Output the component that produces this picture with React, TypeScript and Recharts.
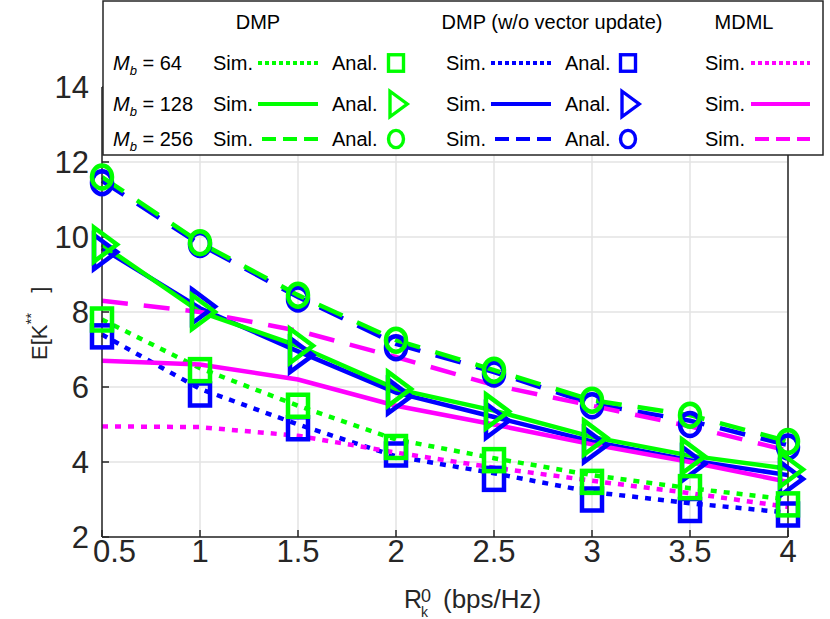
import React from "react";
import { LineChart, Line, XAxis, YAxis, CartesianGrid } from "recharts";

const rates = [0.5, 1, 1.5, 2, 2.5, 3, 3.5, 4];
const yTicks = [2, 4, 6, 8, 10, 12, 14];

// DMP
const dmpSim64 = [7.8, 6.5, 5.5, 4.6, 4.1, 3.65, 3.3, 3.0];
const dmpAnal64 = [7.8, 6.45, 5.5, 4.4, 4.05, 3.47, 3.33, 2.87];
const dmpSim128 = [9.8, 8.0, 7.1, 5.95, 5.37, 4.67, 4.17, 3.82];
const dmpAnal128 = [9.8, 8.0, 7.1, 5.95, 5.35, 4.65, 4.15, 3.8];
const dmpSim256 = [11.6, 9.85, 8.45, 7.25, 6.45, 5.65, 5.25, 4.55];
const dmpAnal256 = [11.6, 9.85, 8.45, 7.25, 6.45, 5.65, 5.25, 4.55];

// DMP (w/o vector update)
const woSim64 = [7.4, 5.95, 5.0, 4.15, 3.7, 3.2, 2.9, 2.65];
const woAnal64 = [7.35, 5.8, 4.9, 4.2, 3.55, 3.0, 2.72, 2.6];
const woSim128 = [9.7, 8.1, 6.95, 5.85, 5.2, 4.55, 4.05, 3.65];
const woAnal128 = [9.6, 8.15, 6.85, 5.75, 5.1, 4.45, 3.95, 3.55];
const woSim256 = [11.5, 9.8, 8.4, 7.15, 6.4, 5.55, 5.1, 4.45];
const woAnal256 = [11.45, 9.8, 8.35, 7.05, 6.35, 5.5, 5.0, 4.4];

// MDML
const mdmlSim64 = [4.95, 4.93, 4.7, 4.25, 3.85, 3.5, 3.17, 2.8];
const mdmlSim128 = [6.7, 6.6, 6.2, 5.5, 5.0, 4.47, 4.0, 3.47];
const mdmlSim256 = [8.3, 8.0, 7.5, 6.8, 6.05, 5.5, 4.95, 4.3];

const data = rates.map((r, i) => ({
  r,
  dmpSim64: dmpSim64[i],
  dmpAnal64: dmpAnal64[i],
  dmpSim128: dmpSim128[i],
  dmpAnal128: dmpAnal128[i],
  dmpSim256: dmpSim256[i],
  dmpAnal256: dmpAnal256[i],
  woSim64: woSim64[i],
  woAnal64: woAnal64[i],
  woSim128: woSim128[i],
  woAnal128: woAnal128[i],
  woSim256: woSim256[i],
  woAnal256: woAnal256[i],
  mdmlSim64: mdmlSim64[i],
  mdmlSim128: mdmlSim128[i],
  mdmlSim256: mdmlSim256[i],
}));

const GREEN = "#00ff00";
const BLUE = "#0000ff";
const MAGENTA = "#ff00ff";
const INK = "#262626";
const FONT = '"Liberation Sans", Arial, Helvetica, sans-serif';

const DOTTED = "6 7";
const DASHED = "26 16";

type Shape = "square" | "triangle" | "circle";

function marker(shape: Shape, color: string, cx: number, cy: number, s: number, key?: any) {
  if (shape === "square") {
    return (
      <rect key={key} x={cx - 10 * s} y={cy - 11 * s} width={20 * s} height={22 * s}
        fill="none" stroke={color} strokeWidth={4.5 * s} />
    );
  }
  if (shape === "triangle") {
    const pts = `${cx - 8 * s},${cy - 17 * s} ${cx + 15 * s},${cy} ${cx - 8 * s},${cy + 17 * s}`;
    return <polygon key={key} points={pts} fill="none" stroke={color} strokeWidth={4.5 * s} />;
  }
  return (
    <ellipse key={key} cx={cx} cy={cy} rx={10 * s} ry={11.5 * s}
      fill="none" stroke={color} strokeWidth={4.5 * s} />
  );
}

const dotOf = (shape: Shape, color: string) => (props: any) => {
  const { cx, cy, index } = props;
  if (cx == null || cy == null) return <g key={index} />;
  return marker(shape, color, cx, cy, 1, index);
};

const Empty = () => <g />;

// first x label sits just right of the y axis, like the MATLAB figure
const XTick = (props: any) => {
  const { x, y, payload, index } = props;
  const first = index === 0;
  return (
    <text
      x={first ? x - 9 : x}
      y={y + 25}
      textAnchor={first ? "start" : "middle"}
      fontFamily={FONT}
      fontSize={31}
      fill={INK}
    >
      {payload.value}
    </text>
  );
};

const YTick = (props: any) => {
  const { x, y, payload } = props;
  return (
    <text x={x} y={y + 11} textAnchor="end" fontFamily={FONT} fontSize={31} fill={INK}>
      {payload.value}
    </text>
  );
};

function LegendBox() {
  const rows = [
    { label: "64", y: 63, dash: "4 3", shape: "square" as Shape },
    { label: "128", y: 104, dash: undefined, shape: "triangle" as Shape },
    { label: "256", y: 139, dash: "14 7", shape: "circle" as Shape },
  ];
  return (
    <g fontFamily={FONT} fontSize={20} fill="#000">
      <rect x={103} y={1} width={720} height={154} fill="#fff" stroke={INK} strokeWidth={1.5} />
      <text x={258} y={29} textAnchor="middle">DMP</text>
      <text x={552} y={29} textAnchor="middle">DMP (w/o vector update)</text>
      <text x={744} y={29} textAnchor="middle">MDML</text>
      {rows.map((row) => {
        const base = row.y + 7;
        const x0 = row.dash === "14 7" ? 262 : 258;
        return (
          <g key={row.label}>
            <text x={113} y={base}>
              <tspan fontStyle="italic">M</tspan>
              <tspan fontStyle="italic" fontSize={13} dy={5}>b</tspan>
              <tspan dy={-5}>{` = ${row.label}`}</tspan>
            </text>
            <text x={213} y={base}>Sim.</text>
            <line x1={x0} x2={318} y1={row.y} y2={row.y} stroke={GREEN} strokeWidth={4} strokeDasharray={row.dash} />
            <text x={332} y={base}>Anal.</text>
            {marker(row.shape, GREEN, 396, row.y, 0.75)}
            <text x={446} y={base}>Sim.</text>
            <line x1={x0 + 233} x2={551} y1={row.y} y2={row.y} stroke={BLUE} strokeWidth={4} strokeDasharray={row.dash} />
            <text x={565} y={base}>Anal.</text>
            {marker(row.shape, BLUE, 628, row.y, 0.75)}
            <text x={705} y={base}>Sim.</text>
            <line x1={x0 + 493} x2={810} y1={row.y} y2={row.y} stroke={MAGENTA} strokeWidth={4} strokeDasharray={row.dash} />
          </g>
        );
      })}
    </g>
  );
}

export default function App() {
  return (
    <div style={{ position: "absolute", left: 0, top: 0, width: 830, height: 619, background: "#fff" }}>
      <LineChart
        width={830}
        height={619}
        data={data}
        margin={{ top: 87, right: 32, bottom: 52, left: 42 }}
      >
        <CartesianGrid yAxisId="l" stroke="#e3e3e3" strokeWidth={1.5} />
        <XAxis
          dataKey="r"
          type="number"
          domain={[0.5, 4]}
          ticks={rates}
          height={30}
          stroke={INK}
          strokeWidth={1.5}
          tickSize={-7}
          tickMargin={7}
          tick={XTick}
          interval={0}
        />
        <YAxis
          yAxisId="l"
          domain={[2, 14]}
          ticks={yTicks}
          width={60}
          stroke={INK}
          strokeWidth={1.5}
          tickSize={-7}
          tickMargin={20}
          tick={YTick}
          interval={0}
        />
        <YAxis
          yAxisId="r"
          orientation="right"
          domain={[2, 14]}
          ticks={yTicks}
          width={10}
          stroke={INK}
          strokeWidth={1.5}
          tickSize={-7}
          tick={Empty}
          interval={0}
        />

        <Line yAxisId="l" dataKey="woSim64" stroke={BLUE} strokeWidth={4.5} strokeDasharray={DOTTED} dot={false} isAnimationActive={false} />
        <Line yAxisId="l" dataKey="woSim128" stroke={BLUE} strokeWidth={4.5} dot={false} isAnimationActive={false} />
        <Line yAxisId="l" dataKey="woSim256" stroke={BLUE} strokeWidth={4.5} strokeDasharray={DASHED} dot={false} isAnimationActive={false} />
        <Line yAxisId="l" dataKey="woAnal64" stroke="none" dot={dotOf("square", BLUE)} activeDot={false} isAnimationActive={false} />
        <Line yAxisId="l" dataKey="woAnal128" stroke="none" dot={dotOf("triangle", BLUE)} activeDot={false} isAnimationActive={false} />
        <Line yAxisId="l" dataKey="woAnal256" stroke="none" dot={dotOf("circle", BLUE)} activeDot={false} isAnimationActive={false} />

        <Line yAxisId="l" dataKey="dmpSim64" stroke={GREEN} strokeWidth={4.5} strokeDasharray={DOTTED} dot={false} isAnimationActive={false} />
        <Line yAxisId="l" dataKey="dmpSim128" stroke={GREEN} strokeWidth={4.5} dot={false} isAnimationActive={false} />
        <Line yAxisId="l" dataKey="dmpSim256" stroke={GREEN} strokeWidth={4.5} strokeDasharray={DASHED} dot={false} isAnimationActive={false} />
        <Line yAxisId="l" dataKey="dmpAnal64" stroke="none" dot={dotOf("square", GREEN)} activeDot={false} isAnimationActive={false} />
        <Line yAxisId="l" dataKey="dmpAnal128" stroke="none" dot={dotOf("triangle", GREEN)} activeDot={false} isAnimationActive={false} />
        <Line yAxisId="l" dataKey="dmpAnal256" stroke="none" dot={dotOf("circle", GREEN)} activeDot={false} isAnimationActive={false} />

        <Line yAxisId="l" dataKey="mdmlSim64" stroke={MAGENTA} strokeWidth={4.5} strokeDasharray={DOTTED} dot={false} isAnimationActive={false} />
        <Line yAxisId="l" dataKey="mdmlSim128" stroke={MAGENTA} strokeWidth={4.5} dot={false} isAnimationActive={false} />
        <Line yAxisId="l" dataKey="mdmlSim256" stroke={MAGENTA} strokeWidth={4.5} strokeDasharray={DASHED} dot={false} isAnimationActive={false} />
      </LineChart>

      <svg
        width={830}
        height={619}
        style={{ position: "absolute", left: 0, top: 0, pointerEvents: "none" }}
      >
        <LegendBox />
        <text y={608} fontFamily={FONT} fontSize={25} fill={INK}>
          <tspan x={404}>R</tspan>
          <tspan x={421} y={617} fontSize={14}>k</tspan>
          <tspan x={421} y={602} fontSize={18}>0</tspan>
          <tspan x={443} y={608} fontSize={26}>(bps/Hz)</tspan>
        </text>
        <text
          x={47}
          y={360}
          transform="rotate(-90 47 360)"
          fontFamily={FONT}
          fontSize={22}
          fill={INK}
        >
          <tspan>E[K</tspan>
          <tspan fontSize={15} dy={-11}>**</tspan>
          <tspan dx={20} dy={11}>]</tspan>
        </text>
      </svg>
    </div>
  );
}
